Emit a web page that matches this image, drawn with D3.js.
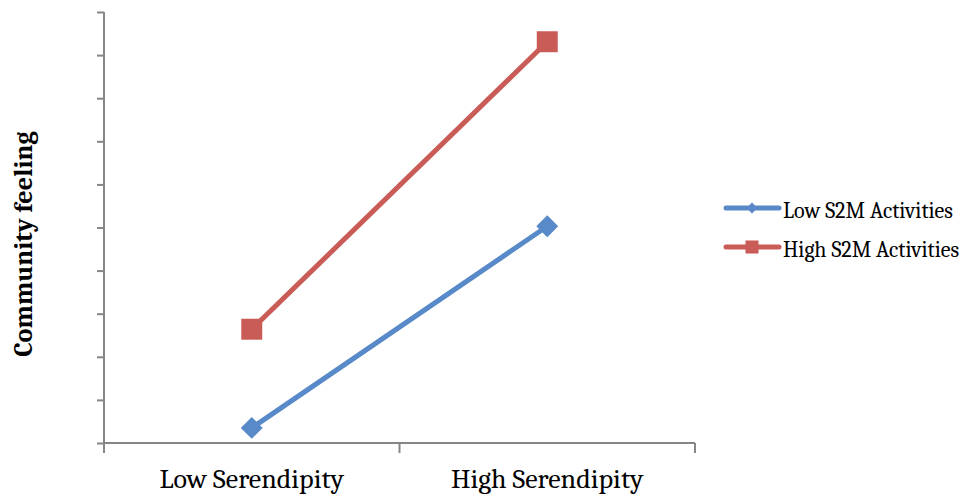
<!DOCTYPE html>
<html>
<head>
<meta charset="utf-8">
<script src="https://cdn.jsdelivr.net/npm/d3@7"></script>
<style>
  html, body { margin: 0; padding: 0; background: #fff; }
  svg { display: block; }
</style>
</head>
<body>
<svg id="chart" width="962" height="495"></svg>
<script>
// Categories along the x axis
const categories = ["Low Serendipity", "High Serendipity"];
// Series names and their values (unlabelled y scale, 0–10)
const seriesNames = ["Low S2M Activities", "High S2M Activities"];
const lowS2M = [0.35, 5.03];
const highS2M = [2.64, 9.31];
const yTicks = d3.range(0, 11);
const yTitle = "Community feeling";

const colors = ["#5889C8", "#CA5C57"];
const seriesValues = [lowS2M, highS2M];

const svg = d3.select("#chart");
const plot = { left: 104, right: 695, top: 12, bottom: 443 };

const x = d3.scaleBand().domain(categories).range([plot.left, plot.right]).paddingInner(0).paddingOuter(0);
const y = d3.scaleLinear().domain([0, 10]).range([plot.bottom, plot.top]);

const axisColor = "#868686";
const serif = "Cambria, Caladea, 'DejaVu Serif', 'Liberation Serif', serif";

// Y axis: ticks only, no labels
const yAxis = svg.append("g")
  .attr("transform", `translate(${plot.left},0)`)
  .call(d3.axisLeft(y).tickValues(yTicks).tickSize(7).tickFormat(""));
yAxis.select(".domain").attr("stroke", axisColor).attr("stroke-width", 2)
  .attr("d", `M0,${plot.top}V${plot.bottom + 10}`);
yAxis.selectAll(".tick line").attr("stroke", axisColor).attr("stroke-width", 2);

// X axis: boundary ticks between categories
const xAxis = svg.append("g").attr("transform", `translate(0,${plot.bottom})`);
xAxis.append("line").attr("x1", plot.left).attr("x2", plot.right).attr("y1", 0).attr("y2", 0)
  .attr("stroke", axisColor).attr("stroke-width", 2);
const bounds = [plot.left, ...categories.map(c => x(c) + x.bandwidth())];
xAxis.selectAll("line.tick").data(bounds).join("line").attr("class", "tick")
  .attr("x1", d => d).attr("x2", d => d).attr("y1", 0).attr("y2", 10)
  .attr("stroke", axisColor).attr("stroke-width", 2);
xAxis.selectAll("text").data(categories).join("text")
  .attr("x", d => x(d) + x.bandwidth() / 2)
  .attr("y", 45)
  .attr("text-anchor", "middle")
  .attr("font-family", serif)
  .attr("font-size", 28)
  .attr("fill", "#000")
  .text(d => d);

// Y title
svg.append("text")
  .attr("transform", `translate(32,244) rotate(-90)`)
  .attr("text-anchor", "middle")
  .attr("font-family", serif)
  .attr("font-weight", "bold")
  .attr("font-size", 26.3)
  .attr("fill", "#000")
  .text(yTitle);

const line = d3.line()
  .x((d, i) => x(categories[i]) + x.bandwidth() / 2)
  .y(d => y(d));

const diamondPath = d3.symbol().type(d3.symbolSquare).size(240)();
const squarePath = d3.symbol().type(d3.symbolSquare).size(440)();

seriesValues.forEach((vals, si) => {
  const g = svg.append("g");
  g.append("path").datum(vals).attr("d", line)
    .attr("fill", "none").attr("stroke", colors[si]).attr("stroke-width", 5)
    .attr("stroke-linecap", "round");
  g.selectAll("path.m").data(vals).join("path").attr("class", "m")
    .attr("transform", (d, i) => `translate(${x(categories[i]) + x.bandwidth() / 2},${y(d)})` + (si === 0 ? " rotate(45)" : ""))
    .attr("d", si === 0 ? diamondPath : squarePath)
    .attr("fill", colors[si]);
});

// Legend
const legend = svg.append("g");
const legY = [208, 247];
seriesNames.forEach((name, si) => {
  const g = legend.append("g").attr("transform", `translate(0,${legY[si]})`);
  g.append("line").attr("x1", 726).attr("x2", 779).attr("y1", 0).attr("y2", 0)
    .attr("stroke", colors[si]).attr("stroke-width", 5).attr("stroke-linecap", "round");
  g.append("path")
    .attr("transform", `translate(752,0)` + (si === 0 ? " rotate(45)" : ""))
    .attr("d", si === 0 ? d3.symbol().type(d3.symbolSquare).size(60)() : d3.symbol().type(d3.symbolSquare).size(170)())
    .attr("fill", colors[si]);
  g.append("text").attr("x", 783).attr("y", 10)
    .attr("font-family", serif).attr("font-size", 22).attr("fill", "#000")
    .text(name);
});
</script>
</body>
</html>
